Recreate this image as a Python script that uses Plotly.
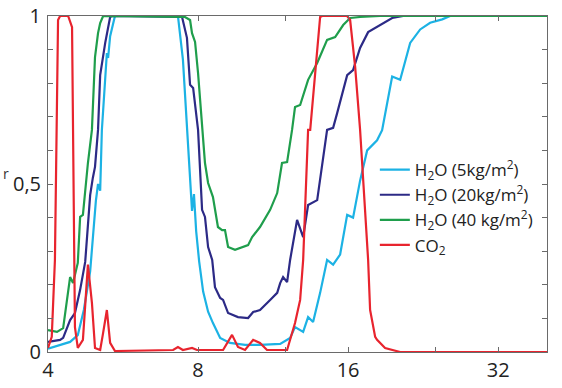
import plotly.graph_objects as go

# wavelength (µm) and transmission values
h2o_5_x = [4.00, 4.23, 4.43, 4.59, 4.72, 4.86, 4.99, 5.04, 5.09, 5.13, 5.23, 5.25, 5.28, 5.33, 5.45,
           7.29, 7.46, 7.60, 7.74, 7.78, 7.85, 7.93, 8.04, 8.19, 8.38, 8.57, 8.86, 9.27, 9.94, 10.65,
           11.69, 11.96, 12.24, 12.52, 13.00, 13.30, 13.61, 14.06, 14.52, 14.93, 15.42, 15.93, 16.37,
           16.91, 17.47, 18.29, 18.72, 19.61, 20.35, 21.31, 22.32, 23.37, 24.71, 25.63, 40.1]
h2o_5_y = [0.01, 0.02, 0.03, 0.05, 0.125, 0.24, 0.45, 0.50, 0.48, 0.66, 0.84, 0.89, 0.875, 0.94, 1.0,
           1.0, 0.87, 0.66, 0.47, 0.42, 0.47, 0.36, 0.27, 0.18, 0.12, 0.086, 0.042, 0.027, 0.021, 0.021,
           0.024, 0.033, 0.042, 0.074, 0.06, 0.104, 0.089, 0.176, 0.274, 0.26, 0.29, 0.408, 0.40,
           0.51, 0.60, 0.63, 0.66, 0.82, 0.81, 0.92, 0.96, 0.98, 0.99, 1.0, 1.0]

h2o_20_x = [4.00, 4.13, 4.23, 4.29, 4.43, 4.53, 4.64, 4.75, 4.86, 4.92, 4.97, 5.04, 5.09, 5.21, 5.25,
            5.33, 5.38, 7.43, 7.60, 7.71, 7.82, 8.00, 8.15, 8.26, 8.38, 8.54, 8.65, 8.86, 8.98, 9.19,
            9.62, 10.08, 10.32, 10.65, 11.16, 11.53, 11.69, 11.85, 12.07, 12.24, 12.64, 13.00, 13.30,
            13.87, 14.52, 14.93, 15.21, 15.56, 15.93, 16.37, 16.91, 17.55, 18.55, 19.61, 20.63, 40.1]
h2o_20_y = [0.030, 0.033, 0.036, 0.042, 0.095, 0.116, 0.185, 0.268, 0.467, 0.518, 0.551, 0.661, 0.824,
            0.92, 0.95, 0.997, 1.0, 0.997, 0.935, 0.795, 0.786, 0.661, 0.423, 0.402, 0.3125, 0.274,
            0.193, 0.161, 0.155, 0.116, 0.104, 0.101, 0.119, 0.125, 0.155, 0.176, 0.205, 0.223, 0.208,
            0.274, 0.393, 0.342, 0.4375, 0.452, 0.661, 0.667, 0.711, 0.765, 0.824, 0.839, 0.905, 0.952,
            0.973, 0.994, 1.0, 1.0]

h2o_40_x = [4.00, 4.17, 4.29, 4.43, 4.49, 4.59, 4.64, 4.70, 4.81, 4.90, 4.97, 5.04, 5.09, 5.16,
            7.53, 7.71, 7.78, 7.89, 8.00, 8.15, 8.26, 8.38, 8.57, 8.77, 8.94, 9.06, 9.19, 9.49, 9.80,
            10.08, 10.27, 10.65, 11.16, 11.53, 11.79, 12.07, 12.35, 12.52, 12.82, 13.30, 13.87, 14.52,
            15.07, 15.64, 16.15, 16.91, 18.55, 40.1]
h2o_40_y = [0.065, 0.06, 0.071, 0.223, 0.205, 0.265, 0.402, 0.408, 0.5625, 0.661, 0.878, 0.949, 0.979,
            1.0, 0.997, 0.988, 0.949, 0.923, 0.83, 0.661, 0.5625, 0.503, 0.461, 0.372, 0.363, 0.363,
            0.3125, 0.304, 0.3125, 0.318, 0.342, 0.372, 0.423, 0.473, 0.5625, 0.565, 0.661, 0.729,
            0.735, 0.81, 0.86, 0.929, 0.9375, 0.973, 0.994, 0.997, 1.0, 1.0]

co2_x = [4.00, 4.07, 4.13, 4.17, 4.19, 4.23, 4.39, 4.47, 4.49, 4.51, 4.53, 4.59, 4.70, 4.81, 4.90,
         4.97, 5.09, 5.16, 5.25, 5.33, 5.45, 7.13, 7.29, 7.46, 7.78, 7.96, 8.07, 8.98, 9.36, 9.62,
         9.94, 10.32, 10.65, 11.00, 12.07, 12.52, 12.82, 13.00, 13.30, 13.43, 14.06, 14.19, 15.93,
         16.15, 16.53, 16.91, 17.55, 17.71, 18.13, 18.29, 18.98, 20.35, 40.1]
co2_y = [0.012, 0.045, 0.274, 0.661, 0.988, 1.0, 1.0, 0.967, 0.661, 0.274, 0.074, 0.012, 0.036, 0.26,
         0.146, 0.012, 0.006, 0.057, 0.125, 0.027, 0.003, 0.006, 0.015, 0.006, 0.012, 0.006, 0.006,
         0.006, 0.051, 0.015, 0.006, 0.036, 0.027, 0.006, 0.006, 0.086, 0.155, 0.274, 0.661, 0.661,
         0.997, 1.0, 1.0, 0.988, 0.848, 0.661, 0.274, 0.125, 0.045, 0.036, 0.012, 0.0, 0.0]

series_names = ["H<sub>2</sub>O (5kg/m<sup>2</sup>)",
                "H<sub>2</sub>O (20kg/m<sup>2</sup>)",
                "H<sub>2</sub>O (40 kg/m<sup>2</sup>)",
                "CO<sub>2</sub>"]
series_colors = ["#1cb2e4", "#2c2a86", "#1f9e4c", "#e8242e"]

x_tickvals = [4, 8, 12, 16, 24, 32]
x_ticktext = ["4", "8", "", "16", "", "32"]
y_tickvals = [0, 0.5, 1]
y_ticktext = ["0", "0,5", "1"]

FONT = "Open Sans, sans-serif"

fig = go.Figure()
for xs, ys, name, col in zip([h2o_5_x, h2o_20_x, h2o_40_x, co2_x],
                             [h2o_5_y, h2o_20_y, h2o_40_y, co2_y],
                             series_names, series_colors):
    fig.add_trace(go.Scatter(x=xs, y=ys, mode="lines", name=name,
                             line=dict(color=col, width=2.2)))

axis_common = dict(showgrid=False, zeroline=False, showline=True, linecolor="#6a6a6a",
                   linewidth=1, ticks="inside", ticklen=5, tickcolor="#6a6a6a",
                   mirror="ticks", automargin=False,
                   tickfont=dict(family=FONT, size=20, color="#222"))

fig.update_xaxes(type="log", range=[0.60206, 1.6031], tickvals=x_tickvals,
                 ticktext=x_ticktext, ticklabelstandoff=0, **axis_common)
fig.update_yaxes(range=[0, 1], tickvals=y_tickvals, ticktext=y_ticktext,
                 ticklabelstandoff=2,
                 minor=dict(dtick=0.1, ticks="inside", ticklen=5, tickcolor="#6a6a6a"),
                 **axis_common)

fig.add_annotation(text="r", xref="paper", yref="y", x=-0.094, y=0.53, xanchor="left",
                   showarrow=False, font=dict(family=FONT, size=14, color="#333"))

fig.update_layout(
    width=562, height=388,
    margin=dict(l=48, r=15, t=16, b=36),
    plot_bgcolor="white", paper_bgcolor="white",
    font=dict(family=FONT, color="#222"),
    legend=dict(x=0.655, y=0.595, xanchor="left", yanchor="top",
                bgcolor="rgba(0,0,0,0)", itemwidth=30, tracegroupgap=0,
                font=dict(family=FONT, size=17, color="#222")),
)

fig.write_html("out.html", config={"displayModeBar": False},
               post_script="document.body.style.margin='0';document.body.style.overflow='hidden';")
